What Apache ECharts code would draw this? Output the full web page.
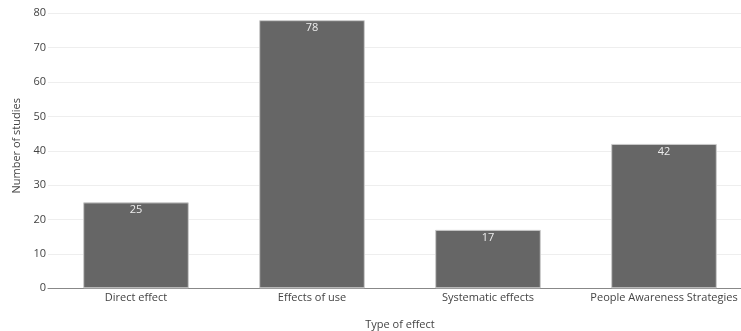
<!DOCTYPE html>
<html>
<head>
<meta charset="utf-8">
<script src="https://cdn.jsdelivr.net/npm/echarts@6/dist/echarts.min.js"></script>
<style>
html,body{margin:0;padding:0;background:#fff;overflow:hidden;}
#chart{width:752px;height:331px;}
</style>
</head>
<body>
<div id="chart"></div>
<script>
// Number of studies per type of effect
const categories = ['Direct effect', 'Effects of use', 'Systematic effects', 'People Awareness Strategies'];
const studies = [25, 78, 17, 42];
const yTicks = { min: 0, max: 80, interval: 10 };

const chart = echarts.init(document.getElementById('chart'));
const font = '"Open Sans", "Noto Sans", sans-serif';

chart.setOption({
  animation: false,
  grid: { left: 48, right: 0, top: 13.3, bottom: 42.7, outerBoundsMode: 'none', containLabel: false },
  xAxis: {
    type: 'category',
    data: categories,
    name: 'Type of effect',
    nameLocation: 'middle',
    nameGap: 31,
    nameTextStyle: { color: '#444', fontSize: 11, fontFamily: font },
    axisLine: { lineStyle: { color: '#888', width: 1 } },
    axisTick: { show: false },
    axisLabel: { color: '#444', fontSize: 11, fontFamily: font, margin: 4, interval: 0 },
    splitLine: { show: false }
  },
  yAxis: {
    type: 'value',
    min: yTicks.min,
    max: yTicks.max,
    interval: yTicks.interval,
    name: 'Number of studies',
    nameLocation: 'middle',
    nameGap: 24,
    nameTextStyle: { color: '#444', fontSize: 11, fontFamily: font, padding: [0, 0, 0, 10] },
    axisLine: { show: false },
    axisTick: { show: false },
    axisLabel: { color: '#444', fontSize: 11, fontFamily: font, margin: 2 },
    splitLine: { lineStyle: { color: '#eee', width: 1 } }
  },
  series: [{
    type: 'bar',
    data: studies,
    barWidth: '60%',
    itemStyle: { color: '#666', borderColor: '#ccc', borderWidth: 1 },
    label: {
      show: true,
      position: 'insideTop',
      distance: 2,
      color: '#eee',
      fontSize: 11,
      fontFamily: font
    }
  }]
});
</script>
</body>
</html>
